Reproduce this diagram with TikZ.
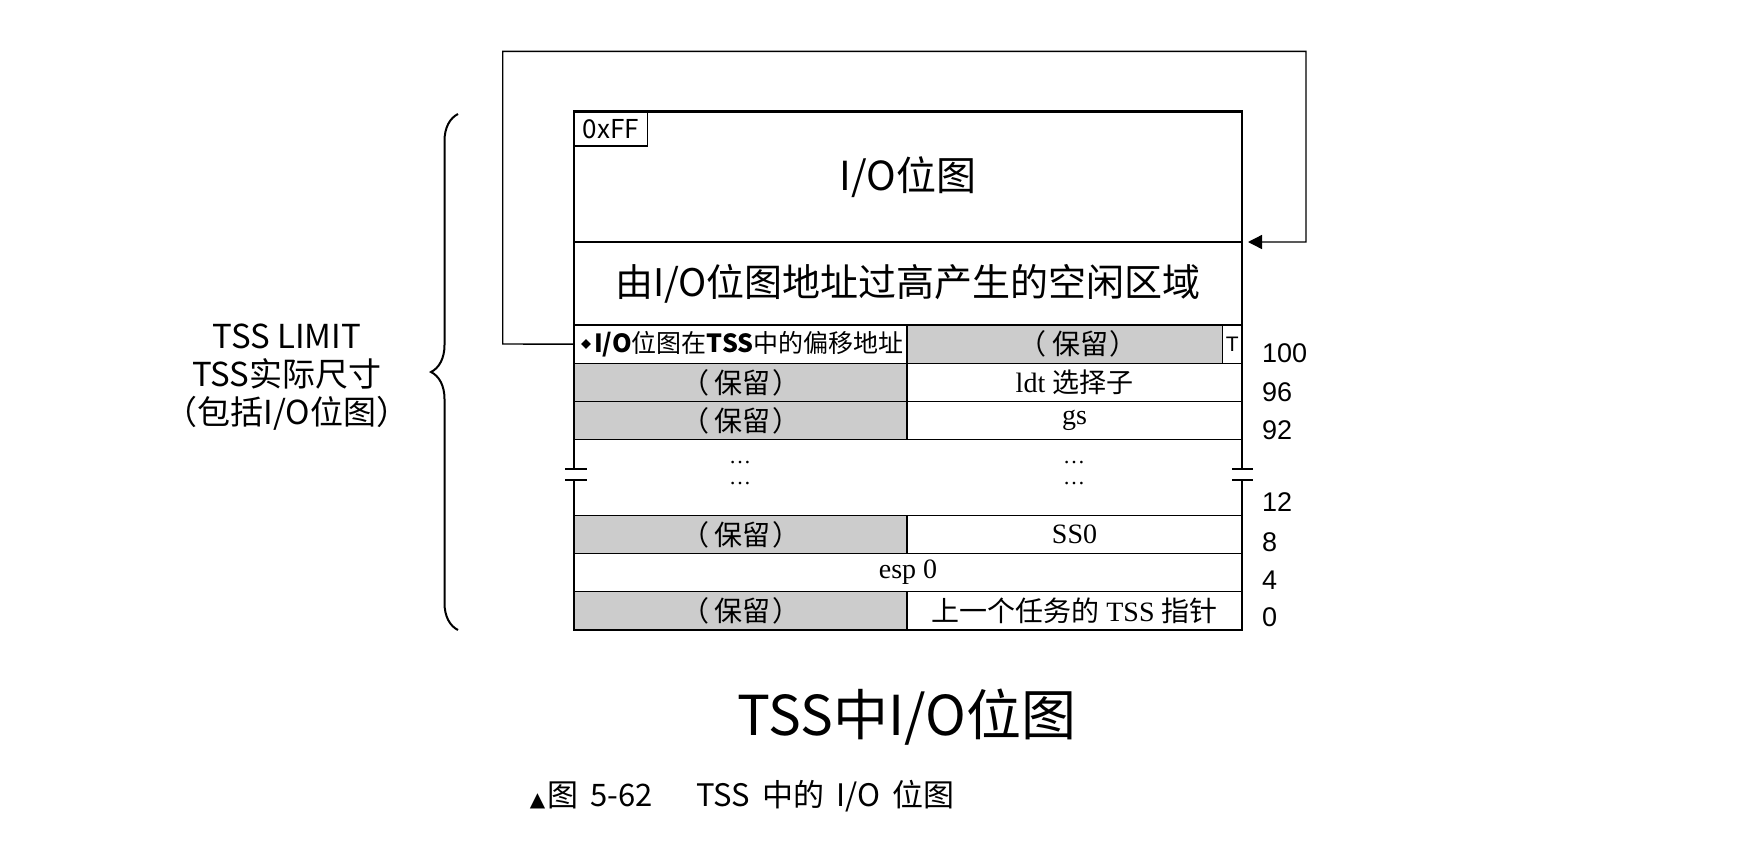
\documentclass[tikz,border=0pt]{standalone}
\usepackage{fontspec}
\usetikzlibrary{arrows.meta,decorations.pathreplacing,shapes.geometric}
\newfontfamily\cjk{Noto Sans CJK SC}
\newfontfamily\ser{Liberation Serif}
\newfontfamily\hel{Liberation Sans}
\newfontfamily\dvs{DejaVu Sans}
\definecolor{resgray}{RGB}{204,204,204}
\newcommand{\fs}[1]{\fontsize{#1}{#1}\selectfont}
\newcommand{\resv}{（\hspace{6pt}保留\hspace{1pt}）}
\begin{document}
\begin{tikzpicture}[x=1pt,y=-1pt,
  cell/.style={draw=black, line width=1.3pt, inner sep=0pt, outer sep=0pt, anchor=north west, minimum height=38.3pt},
  res/.style={cell, fill=resgray, font=\cjk\fs{28}},
  wcell/.style={cell, fill=white},
  sertext/.style={font=\ser\fs{28}},
  outer/.style={line width=2.8pt, line cap=butt},
  brk/.style={line width=2pt},
  route/.style={line width=1.4pt},
  offlbl/.style={font=\hel\fs{27}, anchor=west, inner sep=0pt}]
\useasboundingbox (0,0) rectangle (1738,844);
% top regions
\node[wcell, minimum width=668pt, minimum height=130.3pt, font=\cjk\fs{40}] (iobmp) at (574,111.7) {I/O位图};
\node[wcell, minimum width=668pt, minimum height=83pt, font=\cjk\fs{38}] (free) at (574,242) {由I/O位图地址过高产生的空闲区域};
\node[cell, draw=black, line width=1.2pt, minimum width=73.7pt, minimum height=34.3pt, font=\cjk\fs{26}] (ff) at (574,111.7) {0xFF};
% row 100
\node[wcell, minimum width=333pt] (offcell) at (574,325) {};
\node[res, minimum width=315.3pt] (r100) at (907,325) {\hspace*{26pt}\resv};
\node[wcell, minimum width=19.7pt, font=\hel\fs{21}] (tcell) at (1222.3,325) {T};
\node[diamond, fill=black, inner sep=0pt, minimum size=10pt] (bullet) at (586,344) {};
\node[anchor=west, inner sep=0pt, font=\cjk\fs{25}] (offtxt) at (594,344) {{\bfseries I/O}位图在{\bfseries TSS}中的偏移地址};
% row 96
\node[res, minimum width=333pt] (r96l) at (574,363.3) {\resv};
\node[wcell, minimum width=335pt] (r96r) at (907,363.3) {{\ser\fs{28}ldt }{\cjk\fs{27}选择子}};
% row 92
\node[res, minimum width=333pt] (r92l) at (574,401.6) {\resv};
\node[wcell, minimum width=335pt, sertext] (r92r) at (907,401.6) {gs};
% gap
\node[cell, draw=none, fill=white, minimum width=668pt, minimum height=75.3pt] (gap) at (574,440) {};
\node[font=\ser\fs{22}, inner sep=0pt] (d1) at (740,463) {…};
\node[font=\ser\fs{22}, inner sep=0pt] (d2) at (740,484) {…};
\node[font=\ser\fs{22}, inner sep=0pt] (d3) at (1074,463) {…};
\node[font=\ser\fs{22}, inner sep=0pt] (d4) at (1074,484) {…};
% row 8
\node[res, minimum width=333pt] (r8l) at (574,515.3) {\resv};
\node[wcell, minimum width=335pt, sertext] (r8r) at (907,515.3) {SS0};
% row 4
\node[wcell, minimum width=668pt, sertext] (r4) at (574,553.5) {esp 0};
% row 0
\node[res, minimum width=333pt] (r0l) at (574,591.7) {\resv};
\node[wcell, minimum width=335pt] (r0r) at (907,591.7) {{\cjk\fs{28}上一个任务的}{\ser\fs{28} TSS }{\cjk\fs{28}指针}};
% outer border with break marks
\draw[outer] (574,469) -- (574,111.7) -- (1242,111.7) -- (1242,469);
\draw[outer] (574,480) -- (574,630) -- (1242,630) -- (1242,480);
\draw[brk] (565,469) -- (587,469) (565,480) -- (587,480);
\draw[brk] (1232,469) -- (1253,469) (1232,480) -- (1253,480);
% offsets
\node[offlbl] (o100) at (1262,353) {100};
\node[offlbl] (o96) at (1262,392) {96};
\node[offlbl] (o92) at (1262,430) {92};
\node[offlbl] (o12) at (1262,502) {12};
\node[offlbl] (o8) at (1262,542) {8};
\node[offlbl] (o4) at (1262,580) {4};
\node[offlbl] (o0) at (1262,617) {0};
% route arrow
\coordinate (src) at (offcell.west);
\coordinate (iotip) at (1248,242);
\draw[route, -{Triangle[length=14pt,width=14pt]}] (src) -- (502.7,344) |- (1306,51.3) |- (iotip);
% brace and left label
\draw[line width=2pt, decorate, decoration={brace, amplitude=27pt}] (458,630) -- (458,114);
\node[align=center, font=\cjk\fs{33}, inner sep=0pt] (limit) at (287,377) {TSS LIMIT\\[5pt]TSS实际尺寸\\[5pt]（包括I/O位图）};
% title and caption
\node[font=\cjk\fs{55}, inner sep=0pt] (title) at (907,717) {TSS中I/O位图};
\node[font=\cjk\fs{31}, inner sep=0pt] (caption) at (742,796) {{\dvs\fs{20}▲}\hspace{2pt}图\hspace{12pt}5-62\hspace{44pt}TSS\hspace{12pt}中的\hspace{12pt}I/O\hspace{12pt}位图};
\end{tikzpicture}
\end{document}
